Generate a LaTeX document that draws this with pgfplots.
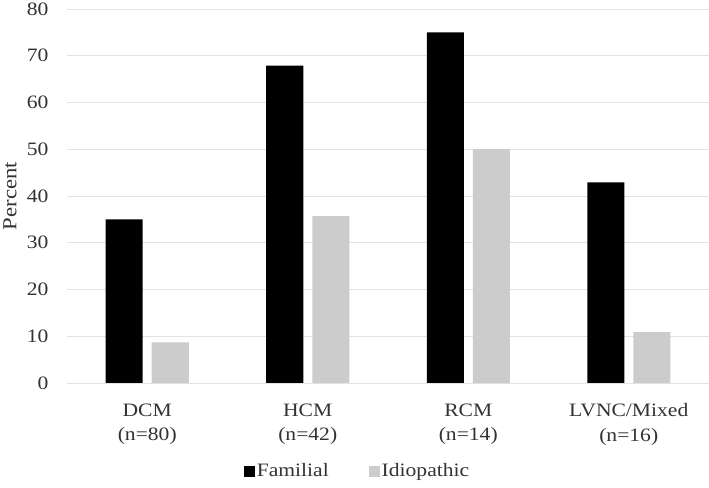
\documentclass[border=0pt]{standalone}
\usepackage{pgfplots}
\pgfplotsset{compat=1.18}
\usepackage{fontspec}
\setmainfont{Liberation Serif}[FakeStretch=1.14]
\definecolor{idio}{RGB}{204,204,204}
\definecolor{gridc}{RGB}{226,226,226}
\begin{document}
\fontsize{19}{23}\selectfont
\begin{tikzpicture}
\begin{scope}[overlay]
\begin{axis}[
  scale only axis, width=642bp, height=374bp,
  xmin=-0.5, xmax=3.5, ymin=0, ymax=80,
  ytick={0,10,...,80},
  xtick={0,1,2,3},
  xticklabels={{DCM\\(n=80)},{HCM\\(n=42)},{RCM\\(n=14)},{LVNC/Mixed\\(n=16)}},
  xticklabel style={align=center, font=\fontsize{19}{25}\selectfont, yshift=-14bp, text=black!80},
  yticklabel style={xshift=-12bp, text=black!80},
  /pgf/number format/assume math mode=true,
  major tick length=0pt,
  axis line style={draw=none},
  ymajorgrids, grid style={gridc, line width=0.9pt},
  ylabel={Percent},
  ylabel style={at={(rel axis cs:-0.0888,0.5)}, anchor=center, text=black!80, font=\fontsize{20}{23}\selectfont},
  ybar=9bp, bar width=37bp,
  legend style={at={(rel axis cs:0.4525,-0.236)}, anchor=center, draw=none, legend columns=2,
    /tikz/every even column/.append style={column sep=38bp}, text=black!80, font=\fontsize{19}{23}\selectfont},
  legend image code/.code={\fill[#1] (-2bp,-5.5bp) rectangle (9bp,5.5bp);},
]
\addplot[fill=black, draw=none] coordinates {(0,35) (1,67.9) (2,75) (3,42.9)};
\addplot[fill=idio, draw=none] coordinates {(0,8.7) (1,35.7) (2,50) (3,10.9)};
\legend{Familial, Idiopathic}
\coordinate (sw) at (rel axis cs:0,0);
\coordinate (ne) at (rel axis cs:1,1);
\end{axis}
\end{scope}
\path[use as bounding box] ([xshift=-67bp,yshift=-105bp]sw) rectangle ([yshift=9bp]ne);
\end{tikzpicture}
\end{document}
